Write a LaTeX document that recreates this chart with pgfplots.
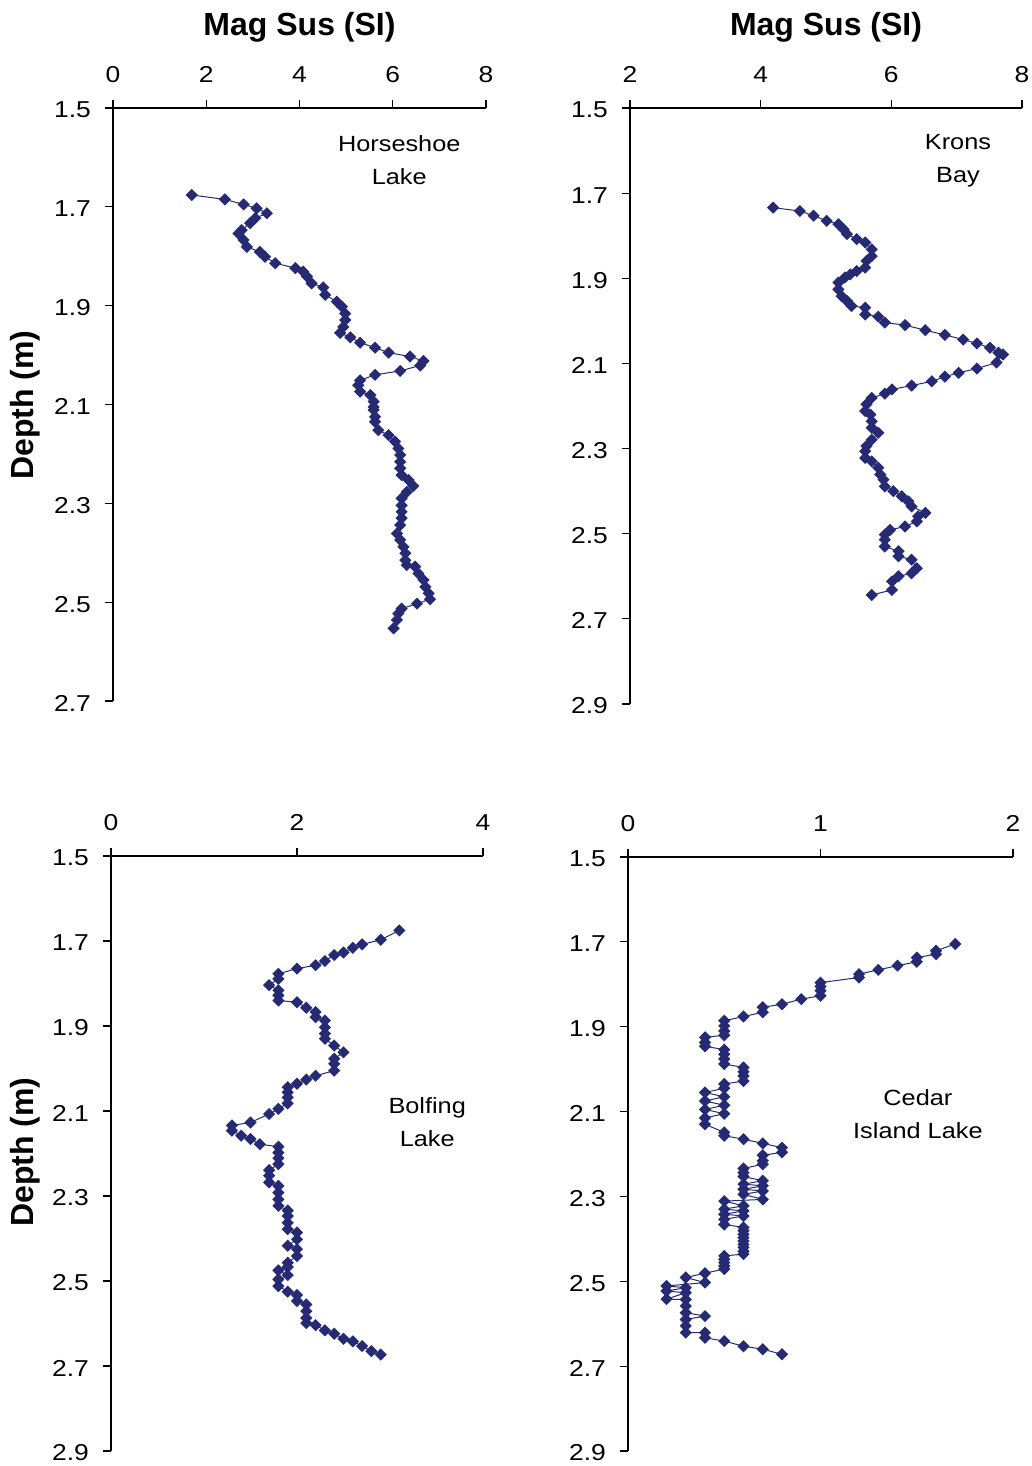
\documentclass[border=0pt]{standalone}
\usepackage{fontspec}
\setmainfont{Liberation Sans}
\newfontfamily\tickfont[FakeStretch=1.15]{Liberation Sans}
\usepackage{pgfplots}
\pgfplotsset{compat=1.18}
\definecolor{navy}{RGB}{38,42,115}
\tikzset{ann/.style={font=\tickfont\fontsize{11}{16.5}\selectfont, align=center}}
\pgfplotsset{
  panel/.style={
    scale only axis, anchor=north west,
    y dir=reverse,
    axis x line*=top, axis y line*=left,
    axis line style={-, black, line width=0.6pt},
    tick align=outside,
    major tick length=4pt,
    tick style={black, line width=0.6pt},
    ticklabel style={font=\tickfont\fontsize{11.5}{13}\selectfont},
    xticklabel style={yshift=5pt},
    yticklabel style={xshift=-3.5pt, yshift=-1pt, /pgf/number format/.cd,fixed,fixed zerofill,precision=1},
    /pgf/number format/assume math mode=true,
    ytick={1.5,1.7,1.9,2.1,2.3,2.5,2.7,2.9},
    minor tick num=0,
    clip=false,
  },
  ser/.style={draw=navy, line width=0.5pt, mark=square*, mark size=1.9pt, mark options={rotate=45, fill=navy, draw=navy, solid}},
}
\begin{document}
\begin{tikzpicture}
\useasboundingbox (0,0) rectangle (516pt,-733pt);
% Panel 1: Horseshoe Lake
\begin{axis}[panel, at={(56.5pt,-54pt)}, width=186.5pt, height=296.5pt,
  xmin=0, xmax=8, ymin=1.5, ymax=2.7, xtick={0,2,4,6,8}]
\addplot[ser] coordinates {
(1.69,1.676)(2.40,1.685)(2.80,1.695)(3.08,1.703)(3.30,1.713)(3.05,1.723)(2.94,1.733)(2.76,1.747)(2.69,1.754)(2.80,1.767)(2.87,1.781)(3.15,1.791)(3.26,1.801)(3.48,1.814)(3.91,1.824)(4.08,1.831)(4.16,1.841)(4.26,1.855)(4.51,1.863)(4.55,1.878)(4.80,1.892)(4.91,1.902)(4.98,1.916)(4.98,1.929)(4.94,1.943)(4.87,1.955)(5.09,1.964)(5.30,1.975)(5.62,1.985)(5.91,1.995)(6.37,2.003)(6.66,2.012)(6.59,2.021)(6.16,2.032)(5.62,2.040)(5.30,2.051)(5.26,2.061)(5.30,2.074)(5.52,2.081)(5.59,2.094)(5.59,2.105)(5.59,2.111)(5.62,2.125)(5.62,2.135)(5.69,2.152)(5.91,2.162)(6.05,2.175)(6.12,2.189)(6.16,2.202)(6.16,2.216)(6.16,2.229)(6.19,2.243)(6.34,2.253)(6.44,2.265)(6.30,2.277)(6.19,2.290)(6.19,2.304)(6.19,2.317)(6.19,2.330)(6.16,2.344)(6.09,2.361)(6.16,2.374)(6.23,2.388)(6.27,2.401)(6.27,2.415)(6.30,2.425)(6.48,2.428)(6.55,2.442)(6.66,2.455)(6.70,2.469)(6.77,2.482)(6.80,2.494)(6.52,2.503)(6.19,2.513)(6.12,2.523)(6.09,2.536)(6.02,2.553)
};
\node[ann] at (axis cs:6.14,1.605) {Horseshoe\\Lake};
\end{axis}
% Panel 2: Krons Bay
\begin{axis}[panel, at={(315pt,-54pt)}, width=196pt, height=298pt,
  xmin=2, xmax=8, ymin=1.5, ymax=2.9, xtick={2,4,6,8}]
\addplot[ser] coordinates {
(4.19,1.734)(4.60,1.742)(4.81,1.753)(5.01,1.765)(5.19,1.773)(5.27,1.785)(5.32,1.796)(5.47,1.808)(5.60,1.816)(5.70,1.832)(5.70,1.848)(5.62,1.859)(5.60,1.875)(5.47,1.883)(5.37,1.891)(5.29,1.898)(5.19,1.910)(5.19,1.926)(5.24,1.942)(5.32,1.953)(5.39,1.965)(5.60,1.969)(5.60,1.985)(5.80,1.990)(5.90,2.004)(6.21,2.010)(6.52,2.022)(6.82,2.033)(7.10,2.044)(7.31,2.053)(7.51,2.063)(7.64,2.075)(7.71,2.079)(7.61,2.098)(7.31,2.112)(7.03,2.122)(6.82,2.131)(6.62,2.142)(6.31,2.152)(6.01,2.161)(5.90,2.171)(5.70,2.181)(5.62,2.196)(5.60,2.212)(5.68,2.220)(5.70,2.236)(5.70,2.251)(5.80,2.263)(5.70,2.279)(5.62,2.294)(5.60,2.306)(5.60,2.322)(5.70,2.330)(5.80,2.345)(5.83,2.361)(5.88,2.373)(5.90,2.389)(6.03,2.400)(6.16,2.412)(6.26,2.424)(6.31,2.436)(6.52,2.451)(6.41,2.459)(6.39,2.471)(6.21,2.483)(5.98,2.491)(5.90,2.502)(5.90,2.514)(5.90,2.530)(6.11,2.541)(6.11,2.553)(6.31,2.561)(6.39,2.581)(6.31,2.593)(6.11,2.600)(6.01,2.612)(6.01,2.632)(5.70,2.644)
};
\node[ann] at (axis cs:7.02,1.624) {Krons\\Bay};
\end{axis}
% Panel 3: Bolfing Lake
\begin{axis}[panel, at={(55.5pt,-428pt)}, width=186pt, height=297.5pt,
  xmin=0, xmax=4, ymin=1.5, ymax=2.9, xtick={0,2,4}]
\addplot[ser] coordinates {
(3.1,1.675)(2.9,1.697)(2.7,1.708)(2.6,1.716)(2.5,1.727)(2.4,1.733)(2.3,1.747)(2.2,1.757)(2.0,1.765)(1.8,1.777)(1.8,1.789)(1.7,1.804)(1.8,1.816)(1.8,1.828)(1.8,1.840)(2.0,1.844)(2.1,1.857)(2.2,1.867)(2.2,1.879)(2.3,1.887)(2.3,1.903)(2.3,1.918)(2.3,1.930)(2.4,1.946)(2.5,1.962)(2.4,1.977)(2.4,1.989)(2.4,2.005)(2.2,2.017)(2.1,2.026)(2.0,2.036)(1.9,2.044)(1.9,2.056)(1.9,2.068)(1.9,2.082)(1.8,2.095)(1.7,2.107)(1.5,2.127)(1.3,2.134)(1.3,2.146)(1.4,2.158)(1.5,2.166)(1.6,2.178)(1.8,2.184)(1.8,2.198)(1.8,2.211)(1.8,2.225)(1.7,2.239)(1.7,2.252)(1.7,2.268)(1.8,2.276)(1.8,2.292)(1.8,2.308)(1.8,2.323)(1.9,2.334)(1.9,2.347)(1.9,2.363)(1.9,2.378)(2.0,2.386)(2.0,2.402)(1.9,2.417)(2.0,2.425)(2.0,2.441)(1.9,2.457)(1.9,2.467)(1.8,2.475)(1.9,2.486)(1.8,2.496)(1.8,2.512)(1.9,2.525)(2.0,2.533)(2.0,2.547)(2.1,2.555)(2.1,2.571)(2.1,2.587)(2.1,2.599)(2.2,2.604)(2.3,2.616)(2.4,2.624)(2.5,2.636)(2.6,2.642)(2.7,2.653)(2.8,2.665)(2.9,2.673)
};
\node[ann] at (axis cs:3.40,2.127) {Bolfing\\Lake};
\end{axis}
% Panel 4: Cedar Island Lake
\begin{axis}[panel, at={(314pt,-428.5pt)}, width=192.5pt, height=297pt,
  xmin=0, xmax=2, ymin=1.5, ymax=2.9, xtick={0,1,2}]
\addplot[ser] coordinates {
(1.7,1.705)(1.6,1.721)(1.6,1.729)(1.5,1.737)(1.5,1.747)(1.4,1.756)(1.3,1.766)(1.2,1.776)(1.2,1.784)(1.0,1.796)(1.0,1.805)(1.0,1.815)(1.0,1.827)(0.9,1.835)(0.8,1.847)(0.7,1.854)(0.7,1.866)(0.6,1.876)(0.5,1.886)(0.5,1.898)(0.5,1.910)(0.5,1.920)(0.4,1.925)(0.4,1.937)(0.4,1.946)(0.5,1.954)(0.5,1.965)(0.5,1.976)(0.5,1.988)(0.6,1.996)(0.6,2.006)(0.6,2.016)(0.6,2.028)(0.5,2.035)(0.5,2.045)(0.4,2.055)(0.5,2.065)(0.4,2.075)(0.5,2.085)(0.4,2.095)(0.5,2.105)(0.4,2.115)(0.4,2.130)(0.5,2.149)(0.5,2.157)(0.6,2.165)(0.7,2.175)(0.8,2.185)(0.8,2.196)(0.7,2.203)(0.7,2.216)(0.7,2.224)(0.6,2.234)(0.6,2.244)(0.6,2.253)(0.7,2.263)(0.6,2.271)(0.7,2.275)(0.6,2.283)(0.7,2.287)(0.6,2.295)(0.7,2.307)(0.5,2.311)(0.6,2.322)(0.5,2.330)(0.6,2.334)(0.5,2.342)(0.6,2.346)(0.5,2.354)(0.5,2.366)(0.6,2.373)(0.6,2.381)(0.6,2.389)(0.6,2.397)(0.6,2.405)(0.6,2.413)(0.6,2.420)(0.6,2.429)(0.6,2.436)(0.5,2.440)(0.5,2.448)(0.5,2.456)(0.5,2.464)(0.5,2.471)(0.4,2.481)(0.3,2.491)(0.4,2.503)(0.2,2.511)(0.3,2.515)(0.2,2.523)(0.3,2.527)(0.2,2.542)(0.3,2.543)(0.3,2.558)(0.3,2.574)(0.4,2.582)(0.3,2.590)(0.3,2.605)(0.3,2.621)(0.4,2.621)(0.4,2.633)(0.5,2.641)(0.6,2.653)(0.7,2.660)(0.8,2.672)
};
\node[ann] at (axis cs:1.506,2.106) {Cedar\\Island Lake};
\end{axis}
% Titles and axis labels
\node[font=\bfseries\fontsize{16}{19}\selectfont] at (149.75pt,-13.5pt) {Mag Sus (SI)};
\node[font=\bfseries\fontsize{16}{19}\selectfont] at (413pt,-13.5pt) {Mag Sus (SI)};
\node[font=\bfseries\fontsize{16}{19}\selectfont, rotate=90] at (12.5pt,-202.5pt) {Depth (m)};
\node[font=\bfseries\fontsize{16}{19}\selectfont, rotate=90] at (12.5pt,-576pt) {Depth (m)};
\end{tikzpicture}
\end{document}
